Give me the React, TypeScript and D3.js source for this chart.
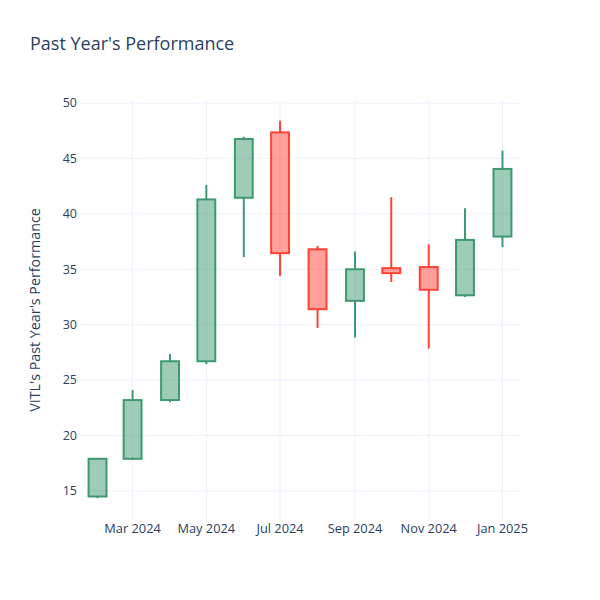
import React from "react";
import * as d3 from "d3";

const dates = [
  "2024-02-01", "2024-03-01", "2024-04-01", "2024-05-01", "2024-06-01", "2024-07-01",
  "2024-08-01", "2024-09-01", "2024-10-01", "2024-11-01", "2024-12-01", "2025-01-01",
];
const opens = [14.5, 17.9, 23.2, 26.7, 41.45, 47.35, 36.8, 32.15, 35.1, 35.2, 32.65, 37.95];
const highs = [17.95, 24.1, 27.35, 42.6, 46.95, 48.4, 37.1, 36.6, 41.5, 37.25, 40.5, 45.7];
const lows = [14.35, 17.8, 23.0, 26.45, 36.1, 34.4, 29.7, 28.85, 33.85, 27.85, 32.5, 37.0];
const closes = [17.9, 23.2, 26.7, 41.3, 46.75, 36.45, 31.4, 35.0, 34.65, 33.15, 37.65, 44.05];

const yTicks = [15, 20, 25, 30, 35, 40, 45, 50];
const xTickDates = ["2024-03-01", "2024-05-01", "2024-07-01", "2024-09-01", "2024-11-01", "2025-01-01"];
const xTickLabels = ["Mar 2024", "May 2024", "Jul 2024", "Sep 2024", "Nov 2024", "Jan 2025"];

const title = "Past Year's Performance";
const yTitle = "VITL's Past Year's Performance";

const W = 600;
const H = 600;
const M = { l: 80, r: 80, t: 100, b: 80 };
const FONT = "'Open Sans', verdana, arial, sans-serif";
const TXT = "#2a3f5f";
const GRID = "#ebf0f8";
const INC = "#3D9970";
const DEC = "#FF4136";

const parse = d3.utcParse("%Y-%m-%d");
const DAY = 86400000;

export default function App() {
  const ds = dates.map((d) => parse(d) as Date);
  const halfPad = 14.5 * DAY;
  const x = d3
    .scaleUtc()
    .domain([new Date(+ds[0] - halfPad), new Date(+ds[ds.length - 1] + halfPad)])
    .range([M.l, W - M.r]);
  const y = d3.scaleLinear().domain([12.38, 50.27]).range([H - M.b, M.t]);
  const halfW = 7.4 * DAY;

  return (
    <svg width={W} height={H} style={{ display: "block", position: "absolute", left: 0, top: 0 }}>
      <rect width={W} height={H} fill="#fff" />
      {xTickDates.map((t, i) => {
        const xv = x(parse(t) as Date);
        return <line key={"xg" + i} x1={xv} x2={xv} y1={M.t} y2={H - M.b} stroke={GRID} strokeWidth={1} />;
      })}
      {yTicks.map((t, i) => (
        <line key={"yg" + i} x1={M.l} x2={W - M.r} y1={y(t)} y2={y(t)} stroke={GRID} strokeWidth={1} />
      ))}
      {ds.map((d, i) => {
        const up = closes[i] >= opens[i];
        const col = up ? INC : DEC;
        const fill = up ? "rgba(61,153,112,0.5)" : "rgba(255,65,54,0.5)";
        const xc = x(d);
        const x0 = x(new Date(+d - halfW));
        const x1 = x(new Date(+d + halfW));
        const top = y(Math.max(opens[i], closes[i]));
        const bot = y(Math.min(opens[i], closes[i]));
        return (
          <g key={"c" + i}>
            <line x1={xc} x2={xc} y1={y(highs[i])} y2={top} stroke={col} strokeWidth={2} />
            <line x1={xc} x2={xc} y1={bot} y2={y(lows[i])} stroke={col} strokeWidth={2} />
            <rect x={x0} y={top} width={x1 - x0} height={Math.max(bot - top, 0.5)} fill={fill} stroke={col} strokeWidth={2} />
          </g>
        );
      })}
      {yTicks.map((t, i) => (
        <text key={"yt" + i} x={M.l - 3} y={y(t)} dy="0.35em" textAnchor="end" fontFamily={FONT} fontSize={12.5} fill={TXT}>
          {t}
        </text>
      ))}
      {xTickDates.map((t, i) => (
        <text key={"xt" + i} x={x(parse(t) as Date)} y={H - M.b + 13} textAnchor="middle" fontFamily={FONT} fontSize={12.8} fill={TXT}>
          {xTickLabels[i]}
        </text>
      ))}
      <text x={30} y={50} fontFamily={FONT} fontSize={18} fill={TXT}>
        {title}
      </text>
      <text
        transform={`translate(${40},${(M.t + H - M.b) / 2}) rotate(-90)`}
        textAnchor="middle"
        fontFamily={FONT}
        fontSize={14.3}
        fill={TXT}
      >
        {yTitle}
      </text>
    </svg>
  );
}
